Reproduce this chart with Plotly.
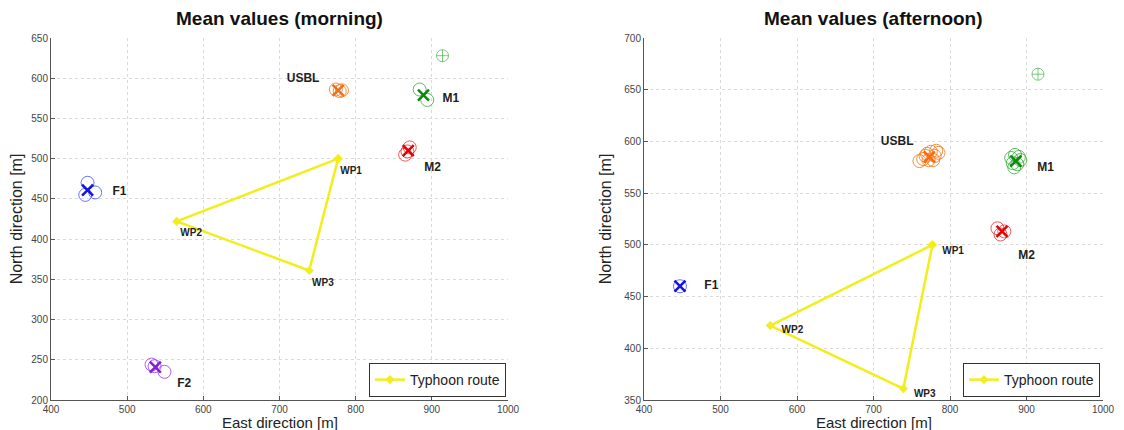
import plotly.graph_objects as go

# ---------------- data: morning ----------------
m_f1_x = [448, 445, 458]; m_f1_y = [470, 455, 458]; m_f1_mean = (448, 461)
m_f2_x = [532, 536, 549]; m_f2_y = [244, 242, 235]; m_f2_mean = (537, 241)
m_usbl_x = [774, 779, 782]; m_usbl_y = [586, 584, 585]; m_usbl_mean = (777, 585)
m_m1_x = [884, 894]; m_m1_y = [586, 573]; m_m1_mean = (889, 579)
m_m1_ref = (914, 628)
m_m2_x = [871, 865, 868]; m_m2_y = [514, 505, 509]; m_m2_mean = (869, 510)

# ---------------- data: afternoon ----------------
a_f1_x = [447]; a_f1_y = [460]; a_f1_mean = (447, 460)
a_usbl_x = [760, 765, 770, 775, 780, 785, 772, 768, 778, 782]
a_usbl_y = [581, 583, 588, 590, 586, 589, 582, 586, 582, 591]
a_usbl_mean = (773, 585)
a_m1_x = [880, 885, 890, 884, 888, 892, 882]
a_m1_y = [584, 587, 585, 575, 578, 582, 579]
a_m1_mean = (886, 581)
a_m1_ref = (915, 665)
a_m2_x = [862, 866, 871]; a_m2_y = [516, 510, 513]; a_m2_mean = (868, 513)

# ---------------- route ----------------
route_x = [777, 565, 739, 777]
route_y = [500, 422, 361, 500]
wp_names = ["WP1", "WP2", "WP3"]

# label positions
m_lab_names = ["USBL", "M1", "M2", "F1", "F2"]
m_lab_x = [731, 925, 901, 490, 575]
m_lab_y = [599, 574, 489, 459, 220]
m_wp_x = [794, 584, 757]; m_wp_y = [484, 407, 345]

a_lab_names = ["USBL", "M1", "M2", "F1"]
a_lab_x = [731, 925, 900, 488]
a_lab_y = [599, 574, 489, 460]
a_wp_x = [804, 594, 767]; a_wp_y = [494, 417, 355]

# colours: (circle colour, cross colour)
BLUE = ("rgba(40,60,255,0.7)", "rgb(20,20,230)")
PURPLE = ("rgba(150,60,235,0.8)", "rgb(130,30,220)")
ORANGE = ("rgba(245,125,30,0.85)", "rgb(240,110,20)")
GREEN = ("rgba(30,160,30,0.7)", "rgb(10,140,10)")
RED = ("rgba(235,20,20,0.7)", "rgb(230,0,0)")
LGREEN = "rgba(40,170,40,0.6)"
YELLOW = "#f2ee1c"
FONT = "Liberation Sans, Arial"

# page body has an 8px margin: figure origin sits at (8, 8) of the screenshot
OFF = 8
W, H = 1124 - OFF, 430 - OFF


def px_x(sx):
    return (sx - OFF) / W


def px_y(sy):
    return 1 - (sy - OFF) / H


fig = go.Figure()


def add_group(xs, ys, mean, color, xa, ya):
    c_circ, c_x = color
    fig.add_trace(go.Scatter(x=xs, y=ys, mode="markers", xaxis=xa, yaxis=ya,
                             marker=dict(symbol="circle-open", size=13, color=c_circ,
                                         line=dict(width=1, color=c_circ)),
                             showlegend=False, hoverinfo="skip"))
    fig.add_trace(go.Scatter(x=[mean[0]], y=[mean[1]], mode="markers", xaxis=xa, yaxis=ya,
                             marker=dict(symbol="x-thin-open", size=11, color=c_x,
                                         line=dict(width=2.5, color=c_x)),
                             showlegend=False, hoverinfo="skip"))


def add_panel(xa, ya, groups, ref, lab_names, lab_x, lab_y, wp_x, wp_y, legend):
    for g in groups:
        add_group(*g, xa, ya)
    fig.add_trace(go.Scatter(x=[ref[0]], y=[ref[1]], mode="markers", xaxis=xa, yaxis=ya,
                             marker=dict(symbol="circle-cross-open", size=12, color=LGREEN,
                                         line=dict(width=1, color=LGREEN)),
                             showlegend=False, hoverinfo="skip"))
    fig.add_trace(go.Scatter(x=route_x, y=route_y, mode="lines+markers", xaxis=xa, yaxis=ya,
                             name="Typhoon route", legend=legend,
                             line=dict(color=YELLOW, width=2.5),
                             marker=dict(symbol="diamond", size=7, color=YELLOW)))
    fig.add_trace(go.Scatter(x=lab_x, y=lab_y, mode="text", text=lab_names, xaxis=xa, yaxis=ya,
                             textfont=dict(family=FONT, size=12, color="#222"),
                             texttemplate="<b>%{text}</b>", showlegend=False, hoverinfo="skip"))
    fig.add_trace(go.Scatter(x=wp_x, y=wp_y, mode="text", text=wp_names, xaxis=xa, yaxis=ya,
                             textfont=dict(family=FONT, size=10, color="#222"),
                             texttemplate="<b>%{text}</b>", showlegend=False, hoverinfo="skip"))


add_panel("x", "y",
          [(m_f1_x, m_f1_y, m_f1_mean, BLUE), (m_f2_x, m_f2_y, m_f2_mean, PURPLE),
           (m_usbl_x, m_usbl_y, m_usbl_mean, ORANGE), (m_m1_x, m_m1_y, m_m1_mean, GREEN),
           (m_m2_x, m_m2_y, m_m2_mean, RED)],
          m_m1_ref, m_lab_names, m_lab_x, m_lab_y, m_wp_x, m_wp_y, "legend")
add_panel("x2", "y2",
          [(a_f1_x, a_f1_y, a_f1_mean, BLUE),
           (a_usbl_x, a_usbl_y, a_usbl_mean, ORANGE), (a_m1_x, a_m1_y, a_m1_mean, GREEN),
           (a_m2_x, a_m2_y, a_m2_mean, RED)],
          a_m1_ref, a_lab_names, a_lab_x, a_lab_y, a_wp_x, a_wp_y, "legend2")

ydom = [px_y(400), px_y(38)]
axis_common = dict(showline=True, linecolor="#555", linewidth=1, mirror=False,
                   ticks="inside", ticklen=4, tickcolor="#555", automargin=False,
                   showgrid=True, gridcolor="#dadada", griddash="dot", gridwidth=1,
                   zeroline=False, tickfont=dict(family=FONT, size=10, color="#444"),
                   title_font=dict(family=FONT, size=16, color="#222"))

legend_common = dict(xanchor="right", yanchor="bottom",
                     bgcolor="white", bordercolor="#333", borderwidth=1,
                     font=dict(family=FONT, size=14, color="#222"),
                     itemwidth=30, tracegroupgap=0)

title_font = dict(family=FONT, size=19, color="#111")
label_font = dict(family=FONT, size=15, color="#222")

fig.update_layout(
    width=W, height=H, margin=dict(l=0, r=0, t=0, b=0),
    plot_bgcolor="white", paper_bgcolor="white",
    xaxis=dict(domain=[px_x(51), px_x(508)], range=[400, 1000], dtick=100, anchor="y",
               **axis_common),
    yaxis=dict(domain=ydom, range=[200, 650], dtick=50, anchor="x",
               title=dict(text="North direction [m]", standoff=8), **axis_common),
    xaxis2=dict(domain=[px_x(644), px_x(1103)], range=[400, 1000], dtick=100, anchor="y2",
                **axis_common),
    yaxis2=dict(domain=ydom, range=[350, 700], dtick=50, anchor="x2",
                title=dict(text="North direction [m]", standoff=8), **axis_common),
    legend=dict(x=px_x(506), y=px_y(397), **legend_common),
    legend2=dict(x=px_x(1100), y=px_y(397), **legend_common),
    annotations=[
        dict(text="<b>Mean values (morning)</b>", x=px_x((51 + 508) / 2), y=px_y(19),
             xref="paper", yref="paper", showarrow=False, xanchor="center", yanchor="middle",
             font=title_font),
        dict(text="<b>Mean values (afternoon)</b>", x=px_x((644 + 1103) / 2), y=px_y(19),
             xref="paper", yref="paper", showarrow=False, xanchor="center", yanchor="middle",
             font=title_font),
        dict(text="East direction [m]", x=px_x((51 + 508) / 2), y=px_y(413),
             xref="paper", yref="paper", showarrow=False, xanchor="center", yanchor="top",
             borderpad=0, font=label_font),
        dict(text="East direction [m]", x=px_x((644 + 1103) / 2), y=px_y(413),
             xref="paper", yref="paper", showarrow=False, xanchor="center", yanchor="top",
             borderpad=0, font=label_font),
    ],
)

fig.write_html("out.html")
